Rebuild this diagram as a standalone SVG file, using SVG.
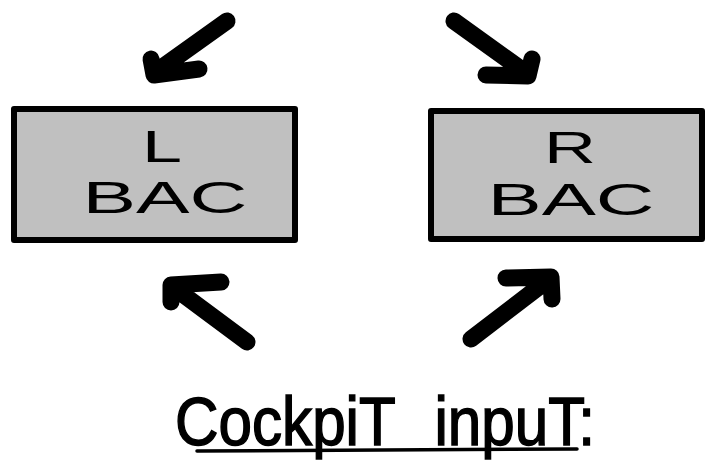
<svg xmlns="http://www.w3.org/2000/svg" width="705" height="466" viewBox="0 0 705 466">
<style>
.box{fill:#c0c0c0;stroke:#000;stroke-width:6;stroke-linejoin:round}
.lbl{font-family:"Liberation Sans",Arial,sans-serif;font-size:44px;fill:#000;text-anchor:middle}
.arrow{fill:none;stroke:#000;stroke-width:17;stroke-linecap:round;stroke-linejoin:round}
.title{font-family:"Liberation Sans",Arial,sans-serif;font-size:68px;fill:#000;stroke:#000;stroke-width:1.5;word-spacing:26px}
</style>
<rect width="705" height="466" fill="#fff"/>
<g id="connectors">
  <path class="arrow" d="M227,21 L157,71 M151,59 L154,75 L199,69"/>
  <path class="arrow" d="M454,21 L525,72 M532,59 L528,76 L486,75"/>
  <path class="arrow" d="M247,342 L173,287 M171,302 L171,285 L221,282"/>
  <path class="arrow" d="M471,339 L548,280 M506,278 L551,277 L552,299"/>
</g>
<g id="lbac">
  <rect class="box" x="14" y="109" width="281" height="131"/>
  <text class="lbl" x="162" y="162" textLength="40" lengthAdjust="spacingAndGlyphs">L</text>
  <text class="lbl" x="165" y="213" textLength="165" lengthAdjust="spacingAndGlyphs">BAC</text>
</g>
<g id="rbac">
  <rect class="box" x="431" y="111" width="271" height="128"/>
  <text class="lbl" x="570" y="163" textLength="52" lengthAdjust="spacingAndGlyphs">R</text>
  <text class="lbl" x="571" y="215" textLength="167" lengthAdjust="spacingAndGlyphs">BAC</text>
</g>
<g id="caption">
  <text class="title" x="175" y="445" textLength="420" lengthAdjust="spacingAndGlyphs">CockpiT inpuT:</text>
  <path d="M197,451 L577,449" stroke="#000" stroke-width="3.5" stroke-linecap="round" fill="none"/>
</g>
</svg>
